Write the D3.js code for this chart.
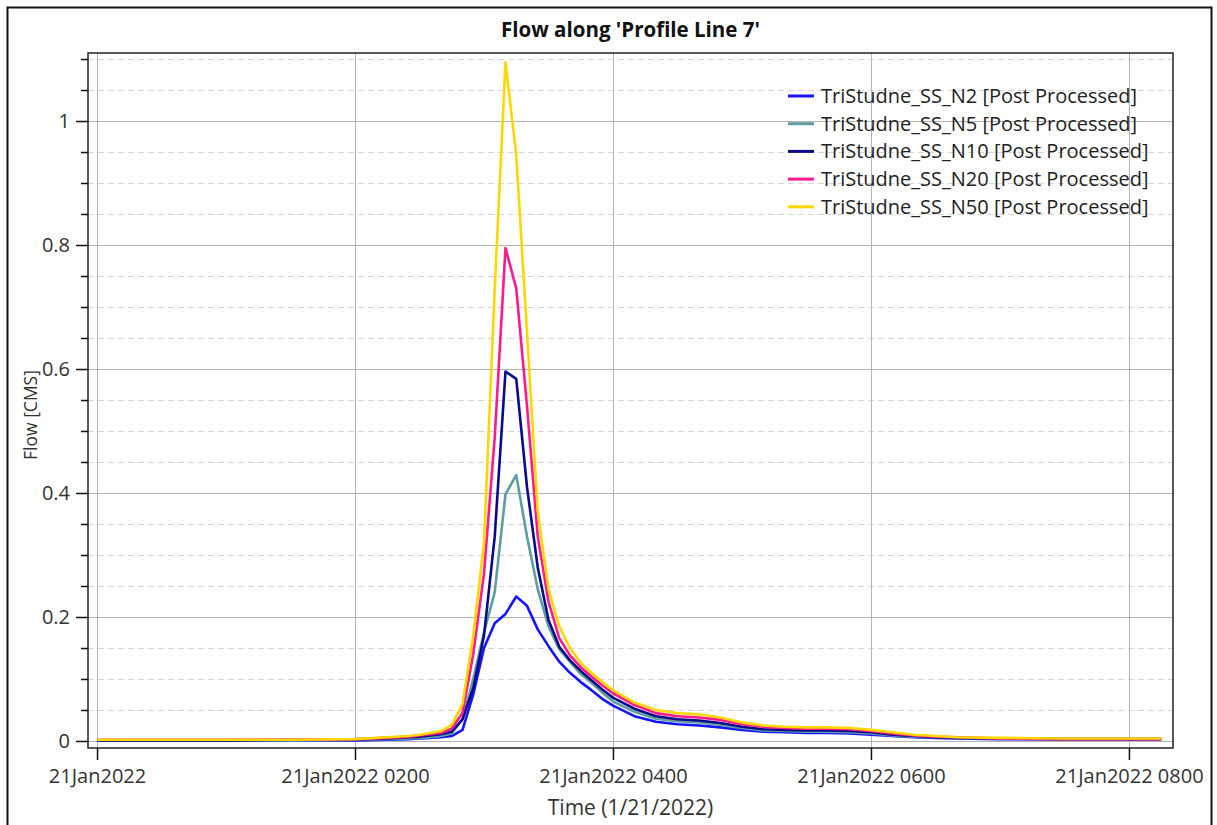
<!DOCTYPE html>
<html lang="en">
<head>
<meta charset="UTF-8">
<title>Flow along 'Profile Line 7'</title>
<script src="https://d3js.org/d3.v7.min.js"></script>
<style>
  body { margin: 0; background: #fff; }
  svg text { font-family: "Open Sans", "Noto Sans", sans-serif; }
</style>
</head>
<body>
<div id="chart"></div>
<script>
    // minutes after 21Jan2022 00:00
    const minutes = [0, 30, 60, 90, 120, 135, 145, 150, 155, 160, 165, 170, 175, 180, 185,
        190, 195, 200, 205, 210, 215, 220, 225, 230, 235, 240, 250, 260, 270, 280,
        290, 300, 310, 320, 330, 340, 350, 360, 370, 380, 390, 400, 420, 450, 480, 495];

    const n2 = [0.001, 0.001, 0.001, 0.001, 0.001, 0.002, 0.003, 0.004, 0.005, 0.006, 0.008, 0.018, 0.075, 0.15, 0.19,
        0.205, 0.233, 0.218, 0.18, 0.153, 0.128, 0.11, 0.095, 0.082, 0.068, 0.057, 0.04, 0.031, 0.027, 0.025,
        0.022, 0.018, 0.015, 0.014, 0.013, 0.013, 0.012, 0.01, 0.008, 0.006, 0.005, 0.004, 0.003, 0.003, 0.003, 0.003];
    const n5 = [0.001, 0.001, 0.001, 0.001, 0.002, 0.003, 0.004, 0.005, 0.006, 0.008, 0.012, 0.035, 0.1, 0.175, 0.24,
        0.398, 0.429, 0.33, 0.245, 0.185, 0.148, 0.128, 0.108, 0.094, 0.078, 0.064, 0.047, 0.036, 0.032, 0.03,
        0.026, 0.021, 0.017, 0.016, 0.015, 0.015, 0.014, 0.012, 0.009, 0.007, 0.006, 0.005, 0.004, 0.003, 0.003, 0.003];
    const n10 = [0.001, 0.001, 0.001, 0.002, 0.002, 0.004, 0.006, 0.007, 0.009, 0.011, 0.015, 0.035, 0.085, 0.17, 0.33,
        0.596, 0.584, 0.41, 0.28, 0.195, 0.152, 0.13, 0.113, 0.098, 0.083, 0.07, 0.052, 0.04, 0.035, 0.033,
        0.029, 0.023, 0.019, 0.018, 0.017, 0.017, 0.016, 0.014, 0.01, 0.008, 0.006, 0.005, 0.004, 0.003, 0.003, 0.003];
    const n20 = [0.002, 0.002, 0.002, 0.002, 0.003, 0.005, 0.007, 0.009, 0.011, 0.013, 0.02, 0.045, 0.14, 0.27, 0.49,
        0.795, 0.73, 0.54, 0.33, 0.225, 0.166, 0.138, 0.119, 0.104, 0.09, 0.077, 0.058, 0.045, 0.04, 0.038,
        0.034, 0.027, 0.023, 0.021, 0.02, 0.02, 0.019, 0.016, 0.012, 0.009, 0.007, 0.006, 0.004, 0.003, 0.003, 0.003];
    const n50 = [0.002, 0.002, 0.002, 0.002, 0.003, 0.006, 0.008, 0.01, 0.013, 0.016, 0.026, 0.06, 0.17, 0.32, 0.73,
        1.095, 0.945, 0.66, 0.37, 0.245, 0.185, 0.15, 0.126, 0.11, 0.095, 0.082, 0.062, 0.05, 0.045, 0.043,
        0.038, 0.03, 0.025, 0.023, 0.022, 0.022, 0.021, 0.018, 0.014, 0.01, 0.008, 0.006, 0.005, 0.004, 0.004, 0.004];

    const seriesNames = ["TriStudne_SS_N2 [Post Processed]", "TriStudne_SS_N5 [Post Processed]",
        "TriStudne_SS_N10 [Post Processed]", "TriStudne_SS_N20 [Post Processed]", "TriStudne_SS_N50 [Post Processed]"];
    const seriesValues = [n2, n5, n10, n20, n50];
    const seriesColors = ["#1414ff", "#5f9ea0", "#0a0a8c", "#ff1a8c", "#ffd700"];

    const yTicks = [0, 0.2, 0.4, 0.6, 0.8, 1];

    const width = 1217, height = 825;
    const margin = {left: 88, top: 53, right: 1217 - 1173, bottom: 825 - 748};
    const start = new Date(2022, 0, 21, 0, 0);
    const toDate = m => new Date(start.getTime() + m * 60000);

    const svg = d3.select("#chart").append("svg")
        .attr("width", width)
        .attr("height", height);

    // outer frame
    svg.append("rect")
        .attr("x", 7.5).attr("y", 7.5)
        .attr("width", 1204).attr("height", 830)
        .attr("fill", "none").attr("stroke", "#111").attr("stroke-width", 2);

    const x = d3.scaleTime()
        .domain([toDate(-4.2), toDate(500.5)])
        .range([margin.left, width - margin.right]);

    const y = d3.scaleLinear()
        .domain([-0.0113, 1.1097])
        .range([height - margin.bottom, margin.top]);

    const xTicks = d3.timeHour.every(2).range(toDate(0), toDate(481));
    const minorY = d3.range(0.05, 1.11, 0.05).filter(v => Math.abs(v / 0.2 - Math.round(v / 0.2)) > 0.01);

    // grid
    const grid = svg.append("g");
    grid.selectAll(".minor").data(minorY).enter().append("line")
        .attr("x1", margin.left).attr("x2", width - margin.right)
        .attr("y1", d => Math.round(y(d)) + 0.5).attr("y2", d => Math.round(y(d)) + 0.5)
        .attr("stroke", "#d6d6d6").attr("stroke-dasharray", "6,4");
    grid.selectAll(".major").data(yTicks).enter().append("line")
        .attr("x1", margin.left).attr("x2", width - margin.right)
        .attr("y1", d => Math.round(y(d)) + 0.5).attr("y2", d => Math.round(y(d)) + 0.5)
        .attr("stroke", "#b4b4b4");
    grid.selectAll(".vert").data(xTicks).enter().append("line")
        .attr("x1", d => Math.round(x(d)) + 0.5).attr("x2", d => Math.round(x(d)) + 0.5)
        .attr("y1", margin.top).attr("y2", height - margin.bottom)
        .attr("stroke", "#b4b4b4");

    // series
    const line = d3.line()
        .x((d, i) => x(toDate(minutes[i])))
        .y(d => y(d));

    const plot = svg.append("g");
    seriesValues.forEach((vals, k) => {
        plot.append("path")
            .datum(vals)
            .attr("d", line)
            .attr("fill", "none")
            .attr("stroke", seriesColors[k])
            .attr("stroke-width", 2.6)
            .attr("stroke-linejoin", "round");
    });

    // plot frame
    svg.append("rect")
        .attr("x", margin.left).attr("y", margin.top)
        .attr("width", width - margin.left - margin.right)
        .attr("height", height - margin.top - margin.bottom)
        .attr("fill", "none").attr("stroke", "#222").attr("stroke-width", 1.5);

    // axes
    const fmt = d => d.getHours() === 0 ? "21Jan2022" : "21Jan2022 " + d3.timeFormat("%H%M")(d);
    const xAxis = svg.append("g")
        .attr("transform", `translate(0,${height - margin.bottom})`)
        .call(d3.axisBottom(x).tickValues(xTicks).tickFormat(fmt).tickSize(12).tickPadding(9));
    xAxis.select(".domain").remove();

    const yAxis = svg.append("g")
        .attr("transform", `translate(${margin.left},0)`)
        .call(d3.axisLeft(y).tickValues(yTicks).tickFormat(d3.format("")).tickSize(12).tickPadding(6));
    yAxis.select(".domain").remove();

    svg.append("g")
        .attr("transform", `translate(${margin.left},0)`)
        .call(d3.axisLeft(y).tickValues(minorY).tickFormat("").tickSize(7))
        .select(".domain").remove();

    svg.selectAll(".tick line").attr("stroke", "#111").attr("stroke-width", 1.5);
    svg.selectAll(".tick text").attr("fill", "#333").style("font-size", "20px");

    // titles
    svg.append("text")
        .attr("x", (margin.left + width - margin.right) / 2).attr("y", 37)
        .attr("text-anchor", "middle")
        .style("font-size", "20.5px").style("font-weight", "bold").attr("fill", "#111")
        .text("Flow along 'Profile Line 7'");

    svg.append("text")
        .attr("x", (margin.left + width - margin.right) / 2).attr("y", 815)
        .attr("text-anchor", "middle")
        .style("font-size", "21px").attr("fill", "#333")
        .text("Time (1/21/2022)");

    svg.append("text")
        .attr("transform", "translate(37,415) rotate(-90)")
        .attr("text-anchor", "middle")
        .style("font-size", "17.5px").attr("fill", "#333")
        .text("Flow [CMS]");

    // legend
    const legend = svg.append("g").attr("transform", "translate(788,96)");
    seriesNames.forEach((name, k) => {
        const g = legend.append("g").attr("transform", `translate(0,${k * 27.7})`);
        g.append("line").attr("x1", 0).attr("x2", 26).attr("y1", 0).attr("y2", 0)
            .attr("stroke", seriesColors[k]).attr("stroke-width", 3);
        g.append("text").attr("x", 33).attr("y", 7)
            .style("font-size", "20px").attr("fill", "#222")
            .text(name);
    });
</script>
</body>
</html>
